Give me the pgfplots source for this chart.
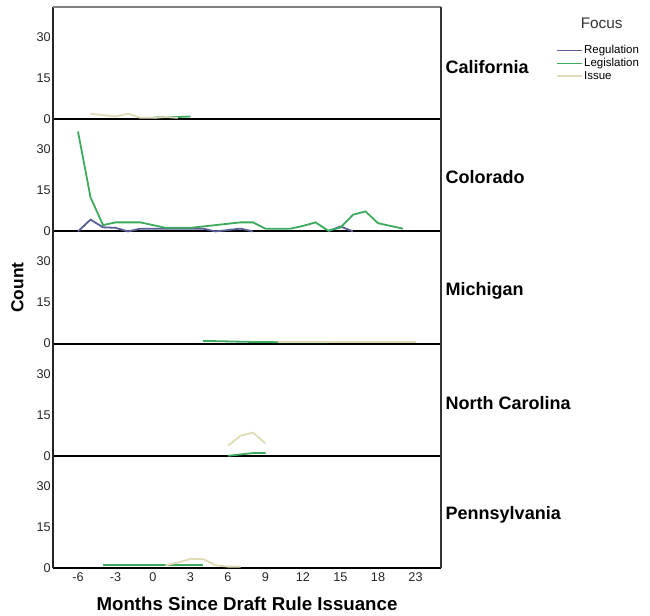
\documentclass[border=0pt]{standalone}
\usepackage{pgfplots}
\pgfplotsset{compat=1.18}
\usepackage{fontspec}
\setmainfont{Liberation Sans}
\definecolor{cReg}{HTML}{5B5F97}
\definecolor{cLeg}{HTML}{3DAA5E}
\definecolor{cIss}{HTML}{DEDBB6}
\tikzset{strip/.style={font=\bfseries\fontsize{13.5}{15}\selectfont, anchor=west}}
\pgfplotsset{
 panel/.style={
  scale only axis, width=291pt, height=84.15pt,
  xmin=-8, xmax=23.04, ymin=0, ymax=41,
  anchor=north west,
  axis x line*=bottom, axis y line*=left,
  x axis line style={line width=1.5pt, black},
  y axis line style={line width=1pt, black!85},
  ytick={0,15,30}, major tick length=0pt,
  xtick={-6,-3,0,3,6,9,12,15,18,21},
  xticklabels={},
  yticklabel style={font=\fontsize{9.5}{10}\selectfont, inner sep=1.5pt, text=black!85},
  xticklabel style={font=\fontsize{9.5}{10}\selectfont, text=black!85},
  /pgf/number format/assume math mode=true,
  clip=false,
  every axis plot/.append style={line width=1.35pt},
 },
}
\begin{document}
\begin{tikzpicture}
\useasboundingbox (-39.75pt,5.25pt) rectangle (447.75pt,-456.75pt);
% California
\begin{axis}[panel, at={(0pt,0pt)},
  legend style={at={(rel axis cs:1.296,0.675)}, anchor=north west, draw=none, fill=none,
    font=\fontsize{8.6}{9}\selectfont, row sep=-0.4pt, inner sep=0pt,
    nodes={inner sep=1pt, text height=6.3pt, text depth=1.8pt}},
  legend cell align=left,
  legend image code/.code={\draw[#1, line width=1.3pt] (0pt,0pt) -- (18.75pt,0pt);}]
\addlegendimage{draw=cReg}
\addlegendentry{Regulation}
\addlegendimage{draw=cLeg}
\addlegendentry{Legislation}
\addlegendimage{draw=cIss}
\addlegendentry{Issue}
\addplot[color=cLeg, forget plot] coordinates {(0,0.6)(1,0.8)(2,0.8)(3,1)};
\addplot[color=cIss, forget plot] coordinates {(-5,2)(-4,1.5)(-3,1)(-2,2)(-1,0.5)(0,0.5)(1,0.8)(2,0.5)};
\draw[gray, line width=1pt] (rel axis cs:0,1) -- (rel axis cs:1,1);
\draw[black!80, line width=0.8pt] (rel axis cs:1,0) -- (rel axis cs:1,1);
\node[strip] at (rel axis cs:1.0,0.465) {California};
\node[font=\fontsize{11.5}{13}\selectfont, text=black!80] at (rel axis cs:1.414,0.855) {Focus};
\end{axis}
% Colorado
\begin{axis}[panel, at={(0pt,-84.15pt)}]
\addplot[color=cReg] coordinates {(-6,0)(-5,4.3)(-4,1.5)(-3,1.3)(-2,0)(-1,1)(0,1)(1,1)(2,1)(3,1)(4,1)(5,0)(6,0.5)(7,1)(8,0)};
\addplot[color=cReg] coordinates {(14,0)(15,1.8)(16,0)};
\addplot[color=cLeg] coordinates {(-6,36.5)(-5,12.5)(-4,2.3)(-3,3.3)(-2,3.3)(-1,3.3)(0,2.3)(1,1.3)(2,1.3)(3,1.3)(4,1.8)(5,2.3)(6,2.8)(7,3.3)(8,3.3)(9,1)(10,1)(11,1)(12,2)(13,3.3)(14,0.3)(15,1.4)(16,6.1)(17,7.3)(18,3)(19,2)(20,1)};
\draw[black!80, line width=0.8pt] (rel axis cs:1,0) -- (rel axis cs:1,1);
\node[strip] at (rel axis cs:1.0,0.485) {Colorado};
\end{axis}
% Michigan
\begin{axis}[panel, at={(0pt,-168.3pt)},
  ylabel={Count},
  ylabel style={at={(rel axis cs:-0.092,0.5)}, anchor=center, font=\bfseries\fontsize{13}{15}\selectfont}]
\addplot[color=cLeg] coordinates {(4,1)(5,0.9)(6,0.8)(7,0.7)(8,0.6)(9,0.6)(10,0.5)(11,0.5)(12,0.5)(13,0.5)(14,0.5)};
\addplot[color=cIss] coordinates {(10,0.6)(11,0.6)(12,0.6)(13,0.6)(14,0.6)(15,0.6)(16,0.6)(17,0.6)(18,0.6)(19,0.6)(20,0.6)(21,0.6)};
\draw[black!80, line width=0.8pt] (rel axis cs:1,0) -- (rel axis cs:1,1);
\node[strip] at (rel axis cs:1.0,0.47) {Michigan};
\end{axis}
% North Carolina
\begin{axis}[panel, at={(0pt,-252.45pt)}]
\addplot[color=cIss] coordinates {(6,3.7)(7,7.3)(8,8.5)(9,4.5)};
\addplot[color=cLeg] coordinates {(6,0)(7,0.5)(8,1)(9,1)};
\draw[black!80, line width=0.8pt] (rel axis cs:1,0) -- (rel axis cs:1,1);
\node[strip] at (rel axis cs:1.0,0.47) {North Carolina};
\end{axis}
% Pennsylvania
\begin{axis}[panel, at={(0pt,-336.6pt)},
  xticklabels={-6,-3,0,3,6,9,12,15,18,23},
  xlabel={Months Since Draft Rule Issuance},
  xlabel style={at={(rel axis cs:0.5,-0.315)}, anchor=center, font=\bfseries\fontsize{14}{16}\selectfont}]
\addplot[color=cLeg] coordinates {(-4,1)(-3,1)(-2,1)(-1,1)(0,1)(1,1)(2,1)(3,1)(4,1)};
\addplot[color=cIss] coordinates {(1,1)(2,2)(3,3.3)(4,3.3)(5,1)(6,0.5)(7,0.5)};
\draw[black!80, line width=0.8pt] (rel axis cs:1,0) -- (rel axis cs:1,1);
\node[strip] at (rel axis cs:1.0,0.47) {Pennsylvania};
\end{axis}
\end{tikzpicture}
\end{document}
